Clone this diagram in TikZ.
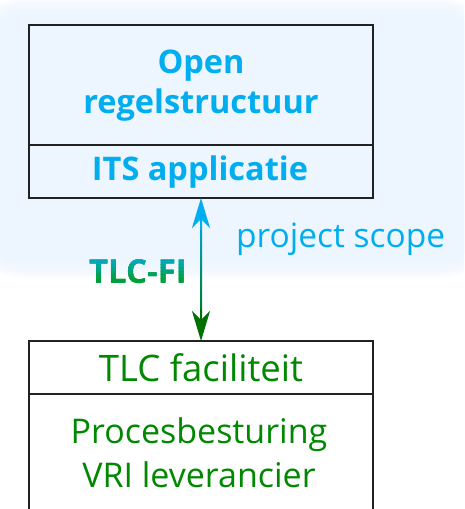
\documentclass[tikz,border=0pt]{standalone}
\usepackage{fontspec}
\setmainfont{Open Sans}
\usetikzlibrary{arrows.meta,calc}
\definecolor{scopebg}{HTML}{EDF5FE}
\definecolor{cyanc}{HTML}{00AEEF}
\definecolor{greenc}{HTML}{008800}
\definecolor{labgreen}{HTML}{00A040}
\definecolor{darkgreen}{HTML}{007000}
\definecolor{boxline}{HTML}{222222}
\tikzset{
  boxframe/.style={draw=boxline, line width=2pt},
  toptext/.style={anchor=base, text=cyanc, font=\fontsize{32.5}{36}\selectfont\bfseries, inner sep=0pt},
  bottext/.style={anchor=base, text=greenc, font=\fontsize{34}{40}\selectfont, inner sep=0pt},
  scopetext/.style={anchor=base west, text=cyanc, font=\fontsize{33.5}{36}\selectfont, inner sep=0pt},
  labtext/.style={inner sep=0pt, font=\fontsize{33}{36}\selectfont\bfseries},
  tip/.style={-{Stealth[length=30pt,width=18pt,inset=9pt]}, line width=2pt},
}
\begin{document}
\begin{tikzpicture}[x=1pt,y=-1pt]
\useasboundingbox (0,0) rectangle (464,509);
\begin{scope}
\clip (0,0) rectangle (464,509);
% blurred scope background
\foreach \d in {0,...,15}{
  \fill[scopebg, opacity=0.13, rounded corners=46pt-\d pt] (-9-16+\d,14-16+\d) rectangle (473+16-\d,262+16-\d);
}
\fill[scopebg, rounded corners=30pt] (-9,14) rectangle (473,262);
% top box
\draw[boxframe] (29,25) rectangle (373,198);
\draw[boxframe] (29,145) -- (373,145);
\coordinate (topS) at (201,198);
% bottom box
\draw[boxframe, fill=white] (29,341) rectangle (373,530);
\draw[boxframe] (29,394) -- (373,394);
\coordinate (botN) at (201,341);
\end{scope}
\node[toptext] (open) at (201,73) {Open};
\node[toptext] (regel) at (201,113) {regelstructuur};
\node[toptext] (its) at (200,180) {ITS applicatie};
\node[scopetext] (scope) at (236,247) {project scope};
\node[bottext, font=\fontsize{36.5}{40}\selectfont] (tlcf) at (201,381) {TLC faciliteit};
\node[bottext] (proc) at (199,443) {Procesbesturing};
\node[bottext] (vri) at (199,487) {VRI leverancier};
% arrow shaft with gradient
\shade[top color=cyanc, bottom color=darkgreen] ($(topS)+(-1,10)$) rectangle ($(botN)+(1,-10)$);
\draw[cyanc, tip] ($(topS)+(0,32)$) -- (topS);
\draw[darkgreen, tip] ($(botN)+(0,-32)$) -- (botN);
% TLC-FI label, cyan at the top turning green downwards
\node[labtext, anchor=base east, text=labgreen] (tlcfi) at (187,283) {TLC-FI};
\foreach \i in {0,...,6}{
  \pgfmathtruncatemacro{\pct}{20+\i*14}
  \begin{scope}
    \clip (80,257+\i*3.5) rectangle (200,260.5+\i*3.5);
    \node[labtext, anchor=center, text=labgreen!\pct!cyanc] at (tlcfi.center) {TLC-FI};
  \end{scope}
}
\end{tikzpicture}
\end{document}
